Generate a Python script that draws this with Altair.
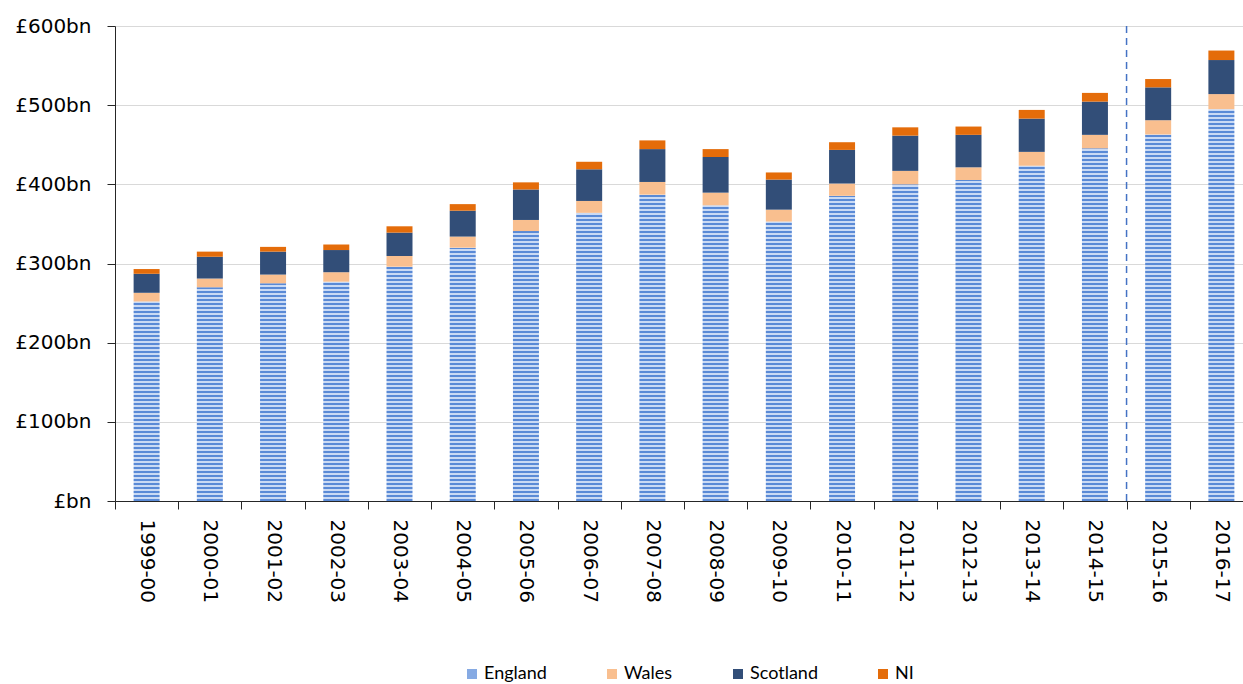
import altair as alt
import pandas as pd

# Public spending by country, £bn (2015-16 onward are plans)
years = ["1999-00", "2000-01", "2001-02", "2002-03", "2003-04", "2004-05",
         "2005-06", "2006-07", "2007-08", "2008-09", "2009-10", "2010-11",
         "2011-12", "2012-13", "2013-14", "2014-15", "2015-16", "2016-17"]
england = [252, 270, 275, 277, 296, 320, 341, 364, 387, 373.5, 353, 385.5,
           400, 405.5, 423.5, 445.5, 463, 495]
wales = [11, 11, 11, 12, 13.5, 14, 14, 15, 16, 16, 15, 15.5,
         17, 16, 17.5, 17, 18, 19]
scotland = [24, 27.5, 29, 28, 29.5, 32.7, 38.5, 40, 41.5, 45, 38, 42.5,
            44.5, 41, 42, 42, 41.5, 43]
ni = [6, 6.5, 6, 7, 8, 8.3, 9, 9.5, 11, 10, 9, 9.7,
      10.5, 10.5, 11, 11, 10.5, 12]
plans_start = "2015-16"

series = ["England", "Wales", "Scotland", "NI"]
colors = ["#86AAE3", "#F9BF8F", "#324E78", "#E46C0A"]

FONT = "DejaVu Sans"
PLOT_H = 475
Y_MAX = 600

rows = []
for i, y in enumerate(years):
    lo = 0.0
    for name, vals in zip(series, [england, wales, scotland, ni]):
        rows.append({"year": y, "country": name, "lo": lo, "hi": lo + vals[i]})
        lo += vals[i]
df = pd.DataFrame(rows)

x_enc = alt.X(
    "year:N", sort=years, title=None,
    scale=alt.Scale(paddingInner=0, paddingOuter=0),
    axis=alt.Axis(labelAngle=90, labelAlign="left", labelBaseline="middle",
                  labelFont=FONT, labelFontSize=20, labelColor="#000000",
                  labelPadding=10, tickBand="extent", tickSize=8,
                  tickColor="#262626", domainColor="#262626", grid=False),
)
y_scale = alt.Scale(domain=[0, Y_MAX], nice=False)
y_axis = alt.Axis(values=[0, 100, 200, 300, 400, 500, 600],
                  labelExpr="'£' + (datum.value == 0 ? '' : datum.value) + 'bn'",
                  labelFont=FONT, labelFontSize=20, labelColor="#000000",
                  labelPadding=16, tickSize=8, tickColor="#262626",
                  domainColor="#262626", gridColor="#D9D9D9", title=None)


def stripes(value, pitch_px=4.0, dark_share=0.5):
    """Horizontal line fill drawn from the bar's base, one line every pitch_px."""
    px = value * PLOT_H / Y_MAX
    stops = []
    k = 0
    while k * pitch_px < px:
        a = min(1.0, k * pitch_px / px)
        b = min(1.0, (k + dark_share) * pitch_px / px)
        c = min(1.0, (k + 1) * pitch_px / px)
        stops += [alt.GradientStop(color="#5A8AD6", offset=a),
                  alt.GradientStop(color="#5A8AD6", offset=b),
                  alt.GradientStop(color="#CADAF4", offset=b),
                  alt.GradientStop(color="#CADAF4", offset=c)]
        k += 1
    return alt.Gradient(gradient="linear", stops=stops, x1=0, x2=0, y1=1, y2=0)


base = alt.Chart(df)

# England bars, each with its own stripe count so the line pitch stays constant
england_layers = [
    base.transform_filter(
        (alt.datum.year == y) & (alt.datum.country == "England")
    ).mark_bar(width=26, fill=stripes(england[i])).encode(
        x=x_enc,
        y=alt.Y("lo:Q", scale=y_scale, axis=y_axis),
        y2="hi:Q",
    )
    for i, y in enumerate(years)
]

others = base.transform_filter(alt.datum.country != "England").mark_bar(width=26).encode(
    x=x_enc,
    y=alt.Y("lo:Q", scale=y_scale, axis=y_axis),
    y2="hi:Q",
    color=alt.Color(
        "country:N",
        scale=alt.Scale(domain=series, range=colors),
        legend=alt.Legend(title=None, orient="none", direction="horizontal",
                          legendX=348, legendY=639, symbolType="square",
                          symbolSize=100, symbolStrokeWidth=0,
                          labelFont="Lato", labelFontSize=18,
                          labelColor="#000000", labelOffset=3,
                          columnPadding=56),
    ),
)

plan_line = alt.Chart(pd.DataFrame({"year": [plans_start]})).mark_rule(
    color="#4472C4", strokeWidth=1.5, strokeDash=[7, 5]
).encode(x=alt.X("year:N", sort=years, bandPosition=0))

chart = alt.layer(*england_layers, others, plan_line).properties(
    width=1138, height=PLOT_H,
    autosize=alt.AutoSizeParams(type="none"),
    padding={"left": 115, "top": 26, "right": -10, "bottom": 183},
).configure_view(stroke=None)

chart.save("out.html", embed_options={"renderer": "svg", "actions": False})
